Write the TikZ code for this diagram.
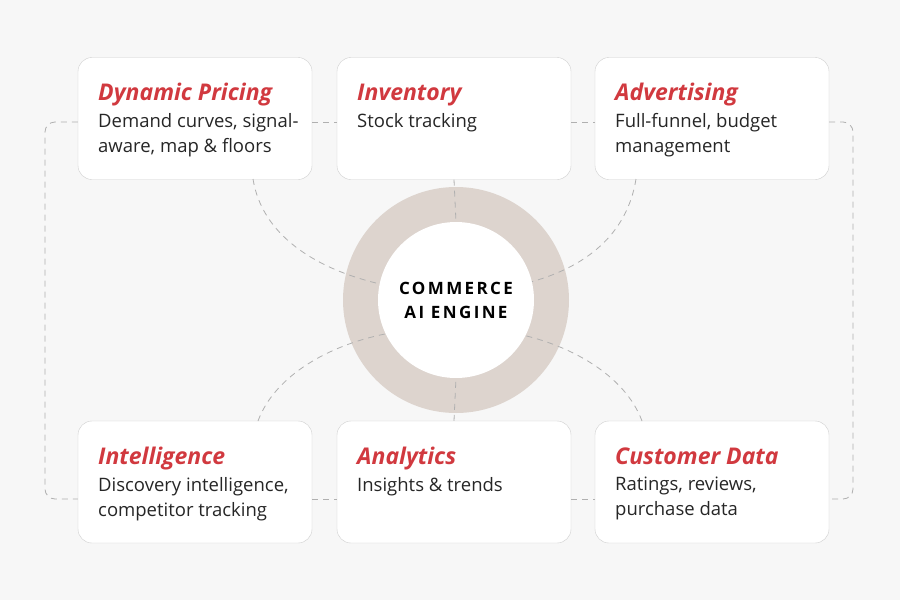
\documentclass[tikz,border=0pt]{standalone}
\usepackage{fontspec}
\setmainfont{Open Sans}
\definecolor{bgc}{HTML}{F7F7F7}
\definecolor{ringc}{HTML}{DDD4CE}
\definecolor{redc}{HTML}{D1393F}
\definecolor{linec}{HTML}{B0B0B0}
\definecolor{edgec}{HTML}{CFCFCF}
\tikzset{
  card/.style={draw=edgec,fill=white,rounded corners=14pt,minimum width=234pt,minimum height=122pt,inner sep=0pt},
  head/.style={anchor=base west,text=redc,font=\fontsize{23}{26}\selectfont\bfseries\itshape,inner sep=0pt},
  body/.style={anchor=north west,align=left,font=\fontsize{18.5}{25}\selectfont,text=black!85,inner sep=0pt},
  link/.style={draw=linec,dash pattern=on 6pt off 5pt,line width=0.8pt}
}
\begin{document}
\begin{tikzpicture}[x=1pt,y=-1pt]
\fill[bgc] (0,0) rectangle (900,600);
\useasboundingbox (0,0) rectangle (900,600);
% ring
\node[circle,fill=ringc,minimum size=226pt,inner sep=0pt] (ring) at (456,300) {};
% cards
\node[card] (dp) at (195,118.5) {};
\node[card] (inv) at (454,118.5) {};
\node[card] (adv) at (712,118.5) {};
\node[card] (intel) at (195,482) {};
\node[card] (ana) at (454,482) {};
\node[card] (cust) at (712,482) {};
% connector ends
\coordinate (dpb) at (253,179);
\coordinate (advb) at (636,179);
\coordinate (intt) at (258,421);
\coordinate (custt) at (642,421);
\coordinate (cl) at (376,283);
\coordinate (cr) at (527,283);
\coordinate (cbl) at (385,334);
\coordinate (cbr) at (518,334);
\coordinate (ct) at (456,222);
\coordinate (cb) at (456,378);
\coordinate (lft) at (45,300);
\coordinate (rgt) at (853,300);
% links
\draw[link] (dpb) .. controls (262,235) and (315,268) .. (cl);
\draw[link] (advb) .. controls (627,235) and (585,268) .. (cr);
\draw[link] (intt) .. controls (275,375) and (330,345) .. (cbl);
\draw[link] (custt) .. controls (625,375) and (570,345) .. (cbr);
\draw[link] (inv.south) -- (ct);
\draw[link] (ana.north) -- (cb);
\draw[link] (dp.east |- 0,122) -- (inv.west |- 0,122);
\draw[link] (inv.east |- 0,122) -- (adv.west |- 0,122);
\draw[link] (intel.east |- 0,499) -- (ana.west |- 0,499);
\draw[link] (ana.east |- 0,499) -- (cust.west |- 0,499);
\draw[link,rounded corners=10pt] (dp.west |- 0,122) -| (lft) |- (intel.west |- 0,499);
\draw[link,rounded corners=10pt] (adv.east |- 0,122) -| (rgt) |- (cust.east |- 0,499);
% core
\node[circle,fill=white,minimum size=156pt,inner sep=0pt,align=center,
  font=\fontsize{17}{24}\selectfont\addfontfeatures{LetterSpace=14}\bfseries] (core) at (456,300)
  {COMMERCE\\AI ENGINE};
% texts
\node[head] (dph) at (98,100) {Dynamic Pricing};
\node[body] (dpt) at (98,113) {Demand curves, signal-\\aware, map \& floors};
\node[head] (invh) at (357,100) {Inventory};
\node[body] (invt) at (357,113) {Stock tracking};
\node[head] (advh) at (615,100) {Advertising};
\node[body] (advt) at (615,113) {Full-funnel, budget\\management};
\node[head] (inth) at (98,464) {Intelligence};
\node[body] (intt2) at (98,477) {Discovery intelligence,\\competitor tracking};
\node[head] (anah) at (357,464) {Analytics};
\node[body] (anat) at (357,477) {Insights \& trends};
\node[head] (custh) at (615,464) {Customer Data};
\node[body] (custt2) at (615,477) {Ratings, reviews,\\purchase data};
\end{tikzpicture}
\end{document}
